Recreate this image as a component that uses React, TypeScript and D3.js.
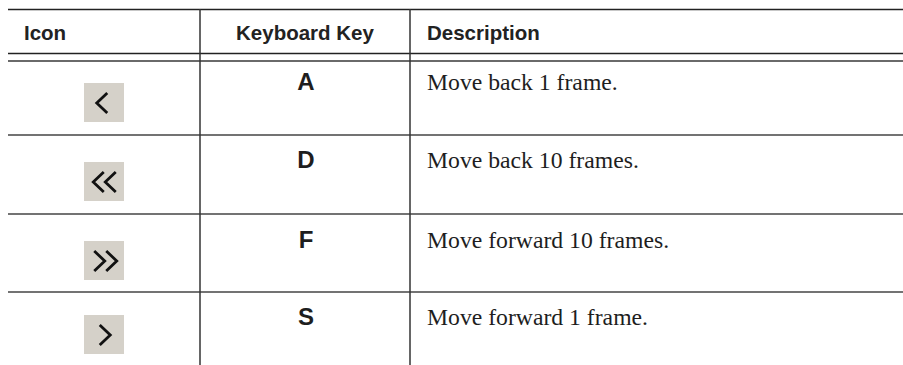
import React from "react";
import * as d3 from "d3";

// ---- data ----
const columns = ["Icon", "Keyboard Key", "Description"];
const keys = ["A", "D", "F", "S"];
const descriptions = [
  "Move back 1 frame.",
  "Move back 10 frames.",
  "Move forward 10 frames.",
  "Move forward 1 frame.",
];
const iconDirection = [-1, -1, 1, 1]; // -1 = back (<), 1 = forward (>)
const iconCount = [1, 2, 2, 1];

// ---- layout (not data) ----
const W = 903;
const H = 365;
const colEdges = [8, 200, 410, W];
const rowEdges = [61, 135, 214, 292, H];
const boxTops = [83, 162, 241, 315];
const baselines = [90, 168, 248, 325];

export default function App() {
  const rows = d3.range(keys.length);
  const colX = d3.scaleOrdinal<string, number>().domain(columns).range(colEdges.slice(0, 3));
  const rowY = d3.scaleOrdinal<number, number>().domain(rows).range(rowEdges.slice(0, 4));
  const boxY = d3.scaleOrdinal<number, number>().domain(rows).range(boxTops);
  const textY = d3.scaleOrdinal<number, number>().domain(rows).range(baselines);

  const line = d3.line();
  const chevron = (tipX: number, cy: number, dir: number, w: number, h: number) =>
    line([
      [tipX - dir * w, cy - h / 2],
      [tipX, cy],
      [tipX - dir * w, cy + h / 2],
    ]) as string;

  const keyCenter = (colEdges[1] + colEdges[2]) / 2;
  const boxW = 40;
  const boxH = 39;
  const boxX = 84;

  return (
    <svg
      width={W}
      height={H}
      style={{ position: "absolute", left: 0, top: 0, background: "#fff" }}
    >
      {/* top rule */}
      <line x1={colEdges[0]} x2={W} y1={9.5} y2={9.5} stroke="#222" strokeWidth={1.3} />
      {/* header bottom rule */}
      <line x1={colEdges[0]} x2={W} y1={53.5} y2={53.5} stroke="#222" strokeWidth={1.3} />
      {/* thick gray rule */}
      <line x1={colEdges[0]} x2={W} y1={61} y2={61} stroke="#6a6a6a" strokeWidth={2.2} />
      {/* row separators */}
      {rows.slice(1).map((r) => (
        <line key={r} x1={colEdges[0]} x2={W} y1={rowY(r)} y2={rowY(r)} stroke="#444" strokeWidth={1.5} />
      ))}
      {/* vertical lines */}
      {[colEdges[1], colEdges[2]].map((x) => (
        <line key={x} x1={x} x2={x} y1={9} y2={H} stroke="#333" strokeWidth={1.5} />
      ))}

      {/* headers */}
      <g fontFamily="'Liberation Sans', Arial, sans-serif" fontWeight="bold" fontSize={20.5} fill="#222">
        <text x={colX("Icon") + 16} y={40}>{columns[0]}</text>
        <text x={keyCenter} y={40} textAnchor="middle">{columns[1]}</text>
        <text x={colX("Description") + 17} y={40}>{columns[2]}</text>
      </g>

      {rows.map((r) => {
        const by = boxY(r);
        const cy = by + boxH / 2 + 0.5;
        const dir = iconDirection[r];
        const n = iconCount[r];
        const cw = 10.5;
        const ch = 20;
        const gap = 12;
        const cx = boxX + boxW / 2 + (n === 1 ? (dir < 0 ? -2 : 1) : dir < 0 ? 0.5 : 1.5);
        const totalW = cw + (n - 1) * gap;
        const chevrons = d3.range(n).map((i) => {
          const left = cx - totalW / 2 + i * gap;
          const tipX = dir < 0 ? left : left + cw;
          return chevron(tipX, cy, dir, cw, ch);
        });
        return (
          <g key={r}>
            <rect x={boxX} y={by} width={boxW} height={boxH} fill="#d5d1c9" />
            {chevrons.map((d, i) => (
              <path key={i} d={d} fill="none" stroke="#111" strokeWidth={2.8} strokeLinejoin="miter" />
            ))}
            <text
              x={keyCenter + 1}
              y={textY(r)}
              textAnchor="middle"
              fontFamily="'Liberation Sans', Arial, sans-serif"
              fontWeight="bold"
              fontSize={24}
              fill="#1e1e1e"
            >
              {keys[r]}
            </text>
            <text
              x={colX("Description") + 17}
              y={textY(r)}
              fontFamily="'Liberation Serif', 'Times New Roman', serif"
              fontSize={23.7}
              fill="#1e1e1e"
            >
              {descriptions[r]}
            </text>
          </g>
        );
      })}
    </svg>
  );
}
